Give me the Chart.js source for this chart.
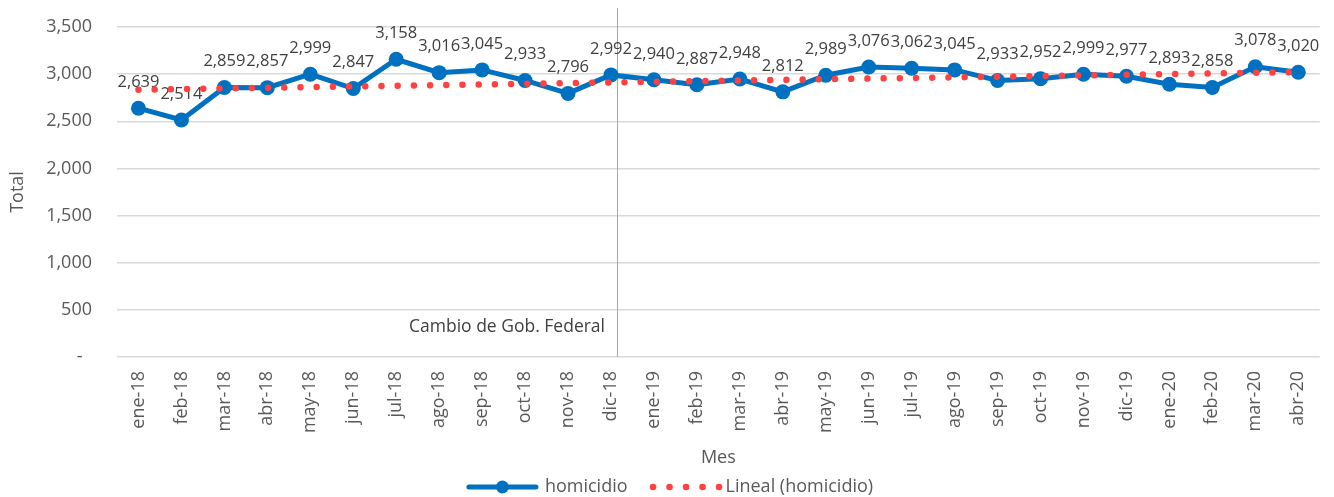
<!DOCTYPE html>
<html>
<head>
<meta charset="utf-8">
<script src="https://cdn.jsdelivr.net/npm/chart.js@4.4.0/dist/chart.umd.min.js"></script>
<style>
  html, body { margin: 0; padding: 0; background: #ffffff; }
  #wrap { width: 1334px; height: 497px; position: relative; }
</style>
</head>
<body>
<div id="wrap"><canvas id="c" width="1334" height="497"></canvas></div>
<script>
const months = ['ene-18','feb-18','mar-18','abr-18','may-18','jun-18','jul-18','ago-18','sep-18','oct-18','nov-18','dic-18',
                'ene-19','feb-19','mar-19','abr-19','may-19','jun-19','jul-19','ago-19','sep-19','oct-19','nov-19','dic-19',
                'ene-20','feb-20','mar-20','abr-20'];
const homicidio = [2639,2514,2859,2857,2999,2847,3158,3016,3045,2933,2796,2992,
                   2940,2887,2948,2812,2989,3076,3062,3045,2933,2952,2999,2977,
                   2893,2858,3078,3020];
// trend line (start and end values)
const trendMonths = ['ene-18','abr-20'];
const trendValues = [2835, 3022];
const yTicks = [0,500,1000,1500,2000,2500,3000,3500];
const dividerIndex = 11.14;
const dividerTopValue = 3700;
const dividerLabel = 'Cambio de Gob. Federal';
const dividerLabelValue = 320;

const FONT = "'Open Sans', 'Noto Sans', sans-serif";
const BLUE = '#0070c0';
const RED = '#ff4141';
const TXT = '#404040';
const TICK = '#595959';

const fmt = v => v.toLocaleString('en-US');

const dataLabelPlugin = {
  id: 'dataLabels',
  afterDatasetDraw(chart, args) {
    if (args.index !== 0) return;
    const ctx = chart.ctx;
    const meta = chart.getDatasetMeta(0);
    ctx.save();
    ctx.font = '16.5px ' + FONT;
    ctx.fillStyle = TXT;
    ctx.textAlign = 'center';
    ctx.textBaseline = 'middle';
    meta.data.forEach((pt, i) => {
      ctx.fillText(fmt(homicidio[i]), pt.x, pt.y - 26);
    });
    ctx.restore();
  }
};

const dividerPlugin = {
  id: 'divider',
  beforeDatasetsDraw(chart) {
    const ctx = chart.ctx;
    const xs = chart.scales.x, ys = chart.scales.y;
    const i0 = Math.floor(dividerIndex);
    const x0 = xs.getPixelForValue(i0), x1 = xs.getPixelForValue(i0 + 1);
    const x = x0 + (x1 - x0) * (dividerIndex - i0);
    ctx.save();
    ctx.strokeStyle = '#a6a6a6';
    ctx.lineWidth = 1;
    ctx.beginPath();
    ctx.moveTo(Math.round(x) + 0.5, ys.getPixelForValue(dividerTopValue));
    ctx.lineTo(Math.round(x) + 0.5, ys.getPixelForValue(0));
    ctx.stroke();
    ctx.font = '17.5px ' + FONT;
    ctx.fillStyle = TXT;
    ctx.textAlign = 'right';
    ctx.textBaseline = 'middle';
    ctx.fillText(dividerLabel, x - 12, ys.getPixelForValue(dividerLabelValue));
    ctx.restore();
  }
};

const legendPlugin = {
  id: 'customLegend',
  afterDraw(chart) {
    const ctx = chart.ctx;
    ctx.save();
    ctx.font = '18px ' + FONT;
    const t1 = 'homicidio', t2 = 'Lineal (homicidio)';
    const w1 = ctx.measureText(t1).width, w2 = ctx.measureText(t2).width;
    const lineW = 71, gapT = 7, gapItem = 22, dotsW = 67, gapT2 = 9;
    const total = lineW + gapT + w1 + gapItem + dotsW + gapT2 + w2;
    let x = chart.width / 2 + 3 - total / 2;
    const y = 487;
    ctx.strokeStyle = BLUE;
    ctx.lineWidth = 5;
    ctx.lineCap = 'round';
    ctx.beginPath(); ctx.moveTo(x + 2, y); ctx.lineTo(x + lineW - 2, y); ctx.stroke();
    ctx.fillStyle = BLUE;
    ctx.beginPath(); ctx.arc(x + lineW / 2, y, 6.5, 0, Math.PI * 2); ctx.fill();
    x += lineW + gapT;
    ctx.fillStyle = TICK;
    ctx.textBaseline = 'middle';
    ctx.textAlign = 'left';
    ctx.fillText(t1, x, y);
    x += w1 + gapItem;
    ctx.fillStyle = RED;
    for (let k = 0; k < 5; k++) {
      ctx.beginPath(); ctx.arc(x + 3.5 + k * 16.5, y, 3.3, 0, Math.PI * 2); ctx.fill();
    }
    x += dotsW + gapT2;
    ctx.fillStyle = TICK;
    ctx.fillText(t2, x, y);
    ctx.restore();
  }
};

new Chart(document.getElementById('c'), {
  type: 'line',
  data: {
    labels: months,
    datasets: [
      {
        label: 'homicidio',
        data: homicidio,
        borderColor: BLUE,
        backgroundColor: BLUE,
        borderWidth: 5,
        pointRadius: 7.5,
        pointBackgroundColor: BLUE,
        pointBorderWidth: 0,
        tension: 0,
        order: 1
      },
      {
        label: 'Lineal (homicidio)',
        data: trendMonths.map((m, i) => ({ x: m, y: trendValues[i] })),
        borderColor: RED,
        borderWidth: 6.5,
        borderDash: [0.001, 16.2],
        borderCapStyle: 'round',
        pointRadius: 0,
        tension: 0,
        order: 0
      }
    ]
  },
  options: {
    responsive: false,
    animation: false,
    events: [],
    layout: { padding: { top: 27, right: 4, bottom: 28, left: 0 } },
    plugins: { legend: { display: false }, tooltip: { enabled: false } },
    scales: {
      x: {
        offset: true,
        grid: { display: false, drawTicks: false },
        border: { display: false },
        ticks: {
          autoSkip: false, maxRotation: 90, minRotation: 90, padding: 14,
          color: TICK, font: { family: FONT, size: 18 }
        },
        title: { display: true, text: 'Mes', color: TICK, font: { family: FONT, size: 18 }, padding: 0 },
        afterFit(axis) { axis.height = 112; }
      },
      y: {
        min: 0, max: 3500,
        afterBuildTicks(axis) { axis.ticks = yTicks.map(v => ({ value: v })); },
        grid: { color: '#d9d9d9', lineWidth: 1.5, drawTicks: true, tickLength: 25, tickColor: 'rgba(0,0,0,0)' },
        border: { display: false },
        ticks: {
          padding: 0, color: TICK, font: { family: FONT, size: 18 },
          callback: v => v === 0 ? '-  ' : fmt(v)
        },
        title: { display: true, text: 'Total', color: TICK, font: { family: FONT, size: 18 }, padding: { top: 7, bottom: 0 } },
        afterFit(axis) { axis.width = 117; }
      }
    }
  },
  plugins: [dividerPlugin, dataLabelPlugin, legendPlugin]
});
</script>
</body>
</html>
